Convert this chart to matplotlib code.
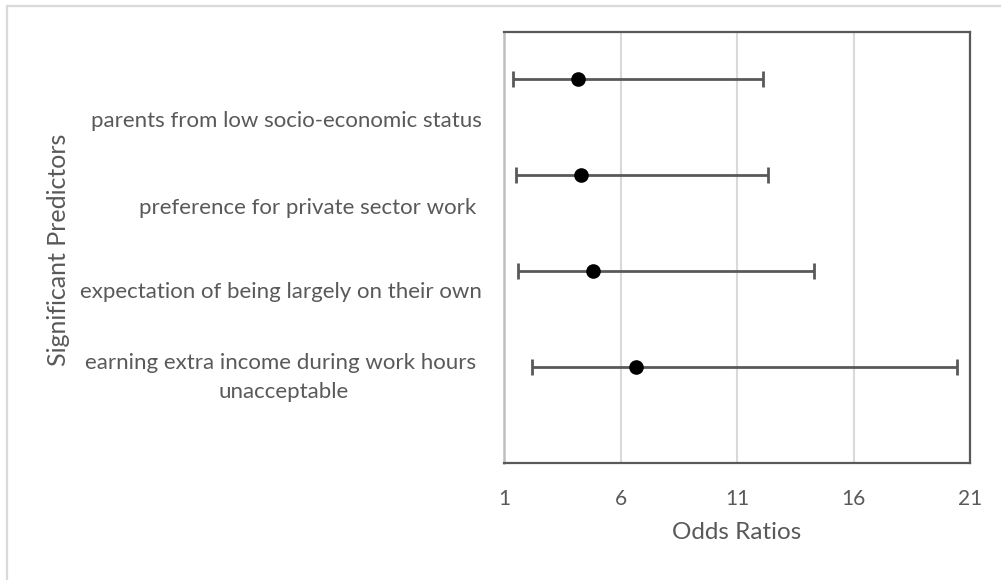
import matplotlib.pyplot as plt
from matplotlib.patches import Rectangle

# odds ratios with 95% confidence intervals
predictors = ["parents from low socio-economic status",
              "preference for private sector work ",
              "expectation of being largely on their own",
              "earning extra income during work hours \nunacceptable"]
odds_ratio = [4.19, 4.29, 4.83, 6.67]
ci_low = [1.40, 1.50, 1.61, 2.21]
ci_high = [12.13, 12.33, 14.32, 20.43]
point_pos = [4, 3, 2, 1]
label_pos = [3.56, 2.66, 1.78, 0.89]
x_ticks = [1, 6, 11, 16, 21]

plt.rcParams['font.family'] = ['Lato', 'DejaVu Sans']
grey = '#595959'

fig = plt.figure(figsize=(10.01, 5.8), dpi=100)
ax = fig.add_axes([504/1001, 1-463/580, 466/1001, 431/580])

# outer chart border
fig.patches.append(Rectangle((7/1001, -0.1), 1.2, 1.1-6/580, transform=fig.transFigure,
                             fill=False, edgecolor='#d9d9d9', linewidth=1.6))

err = [[o-l for o, l in zip(odds_ratio, ci_low)], [h-o for o, h in zip(odds_ratio, ci_high)]]
ax.errorbar(odds_ratio, point_pos, xerr=err, fmt='none', ecolor=grey, elinewidth=2,
            capsize=6, capthick=2, zorder=3)
ax.plot(odds_ratio, point_pos, 'o', color='black', markersize=9.5, zorder=4)

ax.set_xlim(1, 21)
ax.set_ylim(0, 4.49)
ax.set_xticks(x_ticks)
ax.grid(axis='x', color='#d9d9d9', linewidth=1.5)
ax.set_axisbelow(True)
ax.set_yticks([])
ax.tick_params(axis='x', length=0, pad=19, labelsize=15, labelcolor=grey)
for side in ['top', 'right', 'bottom']:
    ax.spines[side].set_color(grey)
    ax.spines[side].set_linewidth(1.6)
ax.spines['left'].set_color('#bfbfbf')
ax.spines['left'].set_linewidth(1.8)

for name, y in zip(predictors, label_pos):
    ax.text(-0.047, y, name, transform=ax.get_yaxis_transform(), ha='right', va='center',
            multialignment='center', fontsize=16, color=grey, linespacing=1.55)

ax.set_xlabel("Odds Ratios", fontsize=17.5, color=grey, labelpad=9)
fig.text(58/1001, 1-250/580, "Significant Predictors", rotation=90, ha='center', va='center',
         fontsize=18, color=grey)

fig.savefig('out.png', dpi=100)
